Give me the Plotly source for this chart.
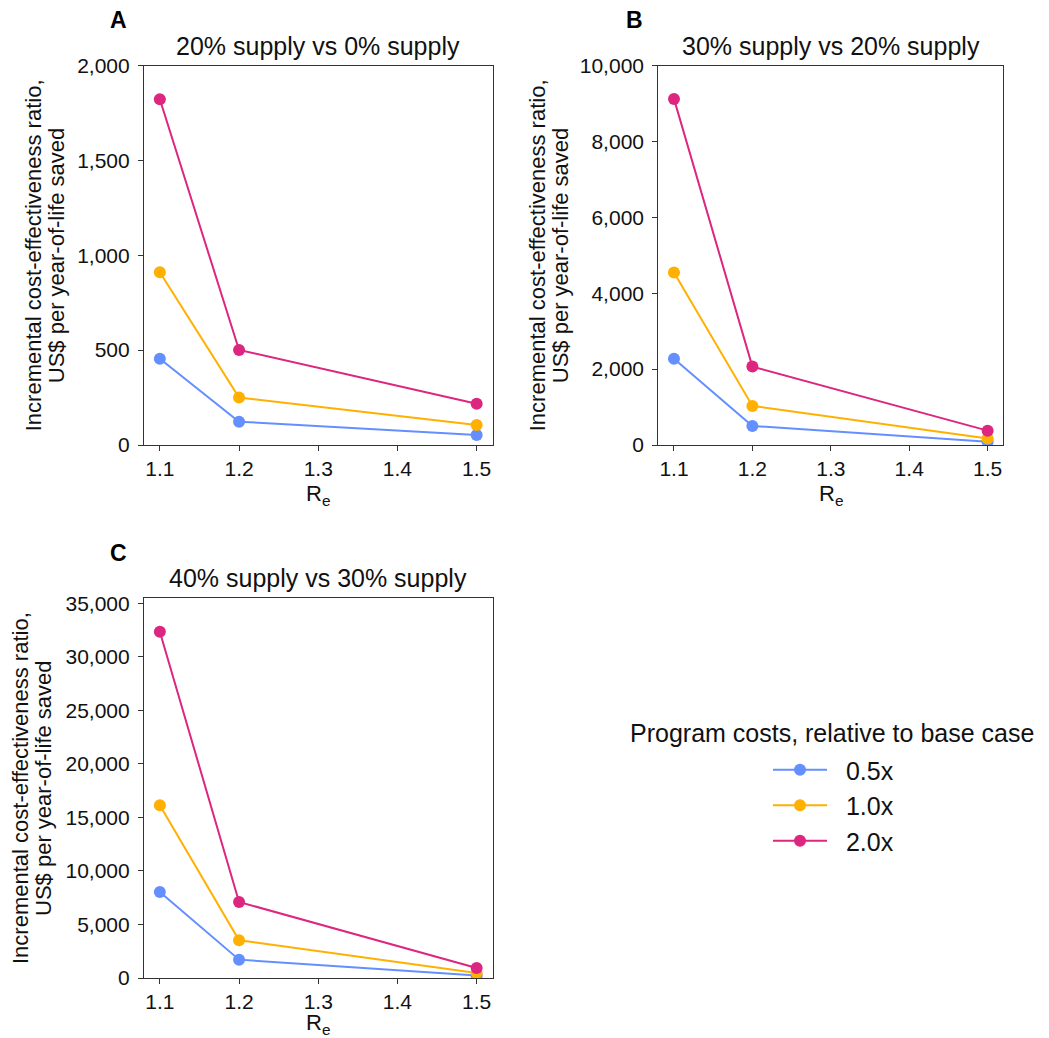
import plotly.graph_objects as go

re_values = [1.1, 1.2, 1.5]
series_names = ["0.5x", "1.0x", "2.0x"]
colors = ["#648FFF", "#FFB000", "#DC267F"]

panel_titles = ["20% supply vs 0% supply", "30% supply vs 20% supply", "40% supply vs 30% supply"]
panel_letters = ["A", "B", "C"]
legend_title = "Program costs, relative to base case"
y_title_lines = ["Incremental cost-effectiveness ratio,", "US$ per year-of-life saved"]
x_title = "R<sub>e</sub>"

# Panel A: 20% vs 0%
a_05 = [455, 123, 53]
a_10 = [910, 250, 106]
a_20 = [1822, 501, 217]
# Panel B: 30% vs 20%
b_05 = [2270, 503, 88]
b_10 = [4545, 1030, 170]
b_20 = [9120, 2066, 378]
# Panel C: 40% vs 30%
c_05 = [8040, 1715, 240]
c_10 = [16140, 3525, 470]
c_20 = [32350, 7100, 935]

y_ranges = [[0, 2000], [0, 10000], [0, 35500]]
y_ticks = [[0, 500, 1000, 1500, 2000],
           [0, 2000, 4000, 6000, 8000, 10000],
           [0, 5000, 10000, 15000, 20000, 25000, 30000, 35000]]
x_ticks = [1.1, 1.2, 1.3, 1.4, 1.5]

W, H = 1049, 1038
OFF = 8  # page body margin
FONT = "Liberation Sans, Arial, sans-serif"
TXT = "#111"

fig = go.Figure()

panels = [
    ("x", "y", [a_05, a_10, a_20]),
    ("x2", "y2", [b_05, b_10, b_20]),
    ("x3", "y3", [c_05, c_10, c_20]),
]
for pi, (xa, ya, data) in enumerate(panels):
    for si, vals in enumerate(data):
        fig.add_trace(go.Scatter(
            x=re_values, y=vals, mode="lines+markers",
            name="\u00a0\u00a0" + series_names[si],
            line=dict(color=colors[si], width=2),
            marker=dict(color=colors[si], size=12),
            xaxis=xa, yaxis=ya,
            showlegend=(pi == 0),
            legendgroup=series_names[si],
        ))

def fx(px):
    return (px - OFF) / W

def fy(py):
    return 1 - (py - OFF) / H

axis_common = dict(
    showline=True, linecolor="#333", linewidth=1.2, mirror=True,
    ticks="outside", ticklen=5, tickcolor="#333", tickwidth=1.2,
    showgrid=False, zeroline=False, automargin=False,
    tickfont=dict(family=FONT, size=21, color=TXT),
)

# plot areas in pixels: (left, right, top, bottom)
boxes = [(144, 492.5, 65.5, 445), (658.3, 1003.3, 65.5, 445), (144, 492.5, 598, 978)]
layout_axes = {}
for i, (l, r, t, b) in enumerate(boxes):
    sfx = "" if i == 0 else str(i + 1)
    layout_axes["xaxis" + sfx] = dict(
        axis_common, domain=[fx(l), fx(r)], range=[1.08, 1.52], tickvals=x_ticks,
        ticktext=[f"{v:.1f}" for v in x_ticks], anchor="y" + sfx,
    )
    layout_axes["yaxis" + sfx] = dict(
        axis_common, domain=[fy(b), fy(t)], range=y_ranges[i], tickvals=y_ticks[i],
        ticktext=[f"{v:,}" for v in y_ticks[i]], anchor="x" + sfx,
        ticklabelstandoff=4,
    )
fig.update_layout(**layout_axes)

annotations = []
ytitle_x = [(33, 56), (537, 560), (20, 43)]
letter_pos = [(118, 20), (634, 20), (118, 553)]
xtitle_off = [50, 50, 46]
for i, (l, r, t, b) in enumerate(boxes):
    cx = (l + r) / 2
    cy = (t + b) / 2
    annotations.append(dict(text=panel_titles[i], x=fx(cx), y=fy(t - 20),
                            xref="paper", yref="paper", showarrow=False,
                            xanchor="center", yanchor="middle",
                            font=dict(family=FONT, size=25, color=TXT)))
    lx, ly = letter_pos[i]
    annotations.append(dict(text=f"<b>{panel_letters[i]}</b>", x=fx(lx), y=fy(ly),
                            xref="paper", yref="paper", showarrow=False,
                            xanchor="center", yanchor="middle", borderpad=0,
                            font=dict(family=FONT, size=23, color="#000")))
    for k, line in enumerate(y_title_lines):
        annotations.append(dict(text=line, x=fx(ytitle_x[i][k]), y=fy(cy),
                                xref="paper", yref="paper", showarrow=False,
                                textangle=-90, xanchor="center", yanchor="middle",
                                font=dict(family=FONT, size=22, color=TXT)))
    annotations.append(dict(text=x_title, x=fx(cx), y=fy(b + xtitle_off[i]),
                            xref="paper", yref="paper", showarrow=False,
                            xanchor="center", yanchor="middle", borderpad=0,
                            font=dict(family=FONT, size=22, color=TXT)))

annotations.append(dict(text=legend_title, x=fx(832), y=fy(733),
                        xref="paper", yref="paper", showarrow=False,
                        xanchor="center", yanchor="middle", borderpad=0,
                        font=dict(family=FONT, size=25, color=TXT)))

fig.update_layout(
    width=W, height=H,
    margin=dict(l=0, r=0, t=0, b=0, autoexpand=False),
    paper_bgcolor="white", plot_bgcolor="white",
    font=dict(family=FONT, color=TXT),
    annotations=annotations,
    showlegend=True,
    legend=dict(
        font=dict(family=FONT, size=25, color=TXT),
        x=fx(768), xanchor="left", y=fy(747), yanchor="top",
        bgcolor="rgba(0,0,0,0)", itemwidth=54, tracegroupgap=0,
    ),
)

fig.write_html("out.html")
